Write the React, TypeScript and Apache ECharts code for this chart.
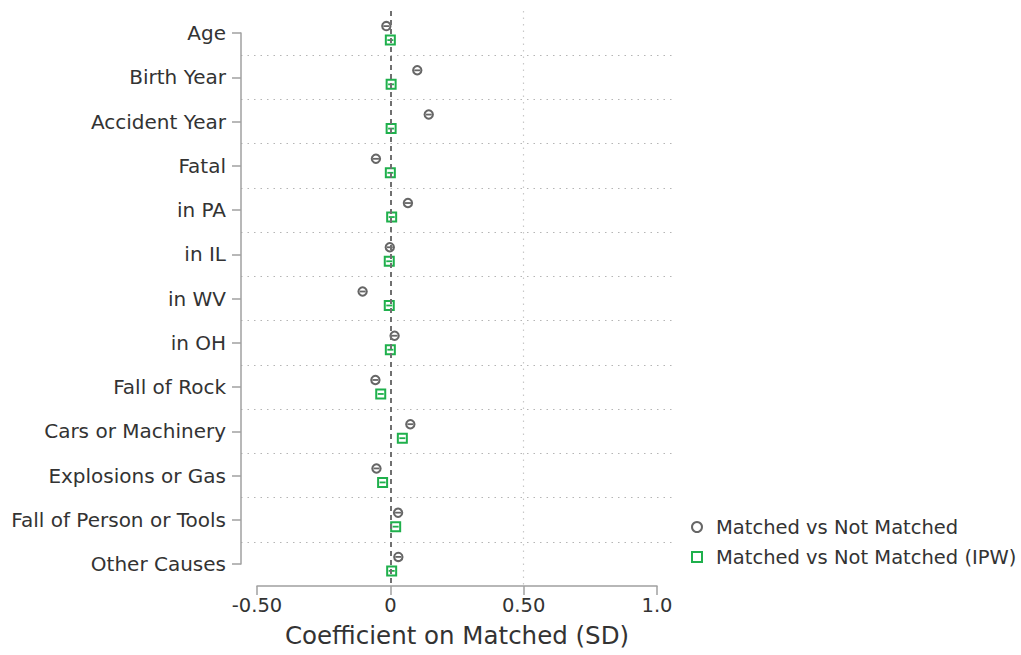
import React, { useEffect, useRef } from "react";
import * as echarts from "echarts";

const categories = [
  "Age",
  "Birth Year",
  "Accident Year",
  "Fatal",
  "in PA",
  "in IL",
  "in WV",
  "in OH",
  "Fall of Rock",
  "Cars or Machinery",
  "Explosions or Gas",
  "Fall of Person or Tools",
  "Other Causes",
];

// Standardised coefficients on "Matched"
const matchedVsNot = [
  -0.015, 0.101, 0.144, -0.054, 0.066, -0.002, -0.104, 0.016, -0.056, 0.075, -0.052, 0.029, 0.03,
];
const matchedVsNotIpw = [
  0.0, 0.003, 0.003, 0.0, 0.005, -0.004, -0.004, 0.0, -0.036, 0.045, -0.029, 0.02, 0.005,
];

const xTicks = [-0.5, 0, 0.5, 1.0];
const xTickLabels = ["-0.50", "0", "0.50", "1.0"];

const SERIES_A = "Matched vs Not Matched";
const SERIES_B = "Matched vs Not Matched (IPW)";

const GRAY = "#666666";
const GREEN = "#1fb04c";
const TEXT = "#333333";
const FONT = "DejaVu Sans";
const LABEL_SIZE = 19.5;

export default function App() {
  const ref = useRef<HTMLDivElement>(null);

  useEffect(() => {
    if (!ref.current) return;
    const chart = echarts.init(ref.current, undefined, { renderer: "svg" });

    const hiddenAxis = {
      axisLine: { show: false },
      axisTick: { show: false },
      axisLabel: { show: false },
      splitLine: { show: false },
    };

    const option: any = {
      animation: false,
      backgroundColor: "#ffffff",
      textStyle: { fontFamily: FONT },
      grid: [
        // data grid
        { left: 257, right: 364, top: 11, bottom: 69 },
        // labelled category axis spanning first to last row
        { left: 241, right: 364, top: 33, bottom: 91 },
        // horizontal separators between rows
        { left: 241, right: 348, top: 11, bottom: 69 },
      ],
      xAxis: [
        {
          gridIndex: 0,
          type: "value",
          min: -0.5,
          max: 1.0,
          interval: 0.5,
          name: "Coefficient on Matched (SD)",
          nameLocation: "middle",
          nameGap: 37,
          nameTextStyle: { fontSize: 24.5, color: TEXT, fontFamily: FONT },
          axisLine: { show: true, lineStyle: { color: "#a0a0a0", width: 1.5 } },
          axisTick: { show: true, length: 9, lineStyle: { color: "#a0a0a0", width: 1.5 } },
          axisLabel: {
            fontSize: LABEL_SIZE,
            color: TEXT,
            fontFamily: FONT,
            margin: 9,
            formatter: (v: number) => {
              const i = xTicks.findIndex((t) => Math.abs(t - v) < 1e-9);
              return i >= 0 ? xTickLabels[i] : "";
            },
          },
          splitLine: { show: false },
        },
        { gridIndex: 1, type: "value", min: 0, max: 1, ...hiddenAxis },
        { gridIndex: 2, type: "value", min: 0, max: 1, ...hiddenAxis },
      ],
      yAxis: [
        {
          gridIndex: 0,
          type: "category",
          data: categories,
          inverse: true,
          boundaryGap: true,
          ...hiddenAxis,
        },
        {
          gridIndex: 1,
          type: "category",
          data: categories,
          inverse: true,
          boundaryGap: false,
          axisLine: { show: true, lineStyle: { color: "#a0a0a0", width: 1.5 } },
          axisTick: { show: true, length: 9, lineStyle: { color: "#a0a0a0", width: 1.5 } },
          axisLabel: { fontSize: 20, color: TEXT, fontFamily: FONT, margin: 15 },
          splitLine: { show: false },
        },
        {
          gridIndex: 2,
          type: "category",
          data: categories,
          inverse: true,
          boundaryGap: true,
          axisLine: { show: false },
          axisTick: { show: false },
          axisLabel: { show: false },
          splitLine: {
            show: true,
            showMinLine: false,
            showMaxLine: false,
            lineStyle: { color: "#b5b5b5", type: [1.5, 5], width: 1.2 },
          },
        },
      ],
      legend: {
        orient: "vertical",
        left: 686,
        top: 512,
        itemWidth: 10,
        itemHeight: 10,
        itemGap: 10,
        textStyle: { fontSize: LABEL_SIZE, color: TEXT, fontFamily: FONT, padding: [0, 0, 0, 9] },
        data: [
          {
            name: SERIES_A,
            icon: "circle",
            itemStyle: { color: "transparent", borderColor: GRAY, borderWidth: 2 },
          },
          {
            name: SERIES_B,
            icon: "rect",
            itemStyle: { color: "transparent", borderColor: GREEN, borderWidth: 2 },
          },
        ],
      },
      series: [
        {
          // reference lines at zero and 0.5
          type: "scatter",
          xAxisIndex: 0,
          yAxisIndex: 0,
          data: [],
          silent: true,
          markLine: {
            silent: true,
            symbol: "none",
            label: { show: false },
            data: [
              { xAxis: 0, lineStyle: { color: "#707070", type: [5, 4], width: 2 } },
              { xAxis: 0.5, lineStyle: { color: "#c8c8c8", type: [1.5, 5], width: 1.2 } },
            ],
          },
        },
        {
          name: SERIES_A,
          type: "custom",
          xAxisIndex: 0,
          yAxisIndex: 0,
          itemStyle: { color: GRAY },
          data: matchedVsNot.map((v, i) => [v, i]),
          renderItem: (_params: any, api: any) => {
            const p = api.coord([api.value(0), api.value(1)]);
            const cx = p[0];
            const cy = p[1] - 7;
            return {
              type: "group",
              children: [
                {
                  type: "circle",
                  shape: { cx, cy, r: 4.2 },
                  style: { fill: "#ffffff", stroke: GRAY, lineWidth: 2 },
                },
                {
                  type: "line",
                  shape: { x1: cx - 3, y1: cy, x2: cx + 3, y2: cy },
                  style: { stroke: GRAY, lineWidth: 1.8 },
                },
              ],
            };
          },
        },
        {
          name: SERIES_B,
          type: "custom",
          xAxisIndex: 0,
          yAxisIndex: 0,
          itemStyle: { color: GREEN },
          data: matchedVsNotIpw.map((v, i) => [v, i]),
          renderItem: (_params: any, api: any) => {
            const p = api.coord([api.value(0), api.value(1)]);
            const cx = p[0];
            const cy = p[1] + 7;
            const h = 4.5;
            return {
              type: "group",
              children: [
                {
                  type: "rect",
                  shape: { x: cx - h, y: cy - h, width: 2 * h, height: 2 * h },
                  style: { fill: "#ffffff", stroke: GREEN, lineWidth: 2 },
                },
                {
                  type: "line",
                  shape: { x1: cx - 3, y1: cy, x2: cx + 3, y2: cy },
                  style: { stroke: GREEN, lineWidth: 1.8 },
                },
              ],
            };
          },
        },
      ],
    };

    chart.setOption(option);
    return () => chart.dispose();
  }, []);

  return (
    <div
      ref={ref}
      style={{ width: 1021, height: 655, position: "absolute", left: 0, top: 0 }}
    />
  );
}
